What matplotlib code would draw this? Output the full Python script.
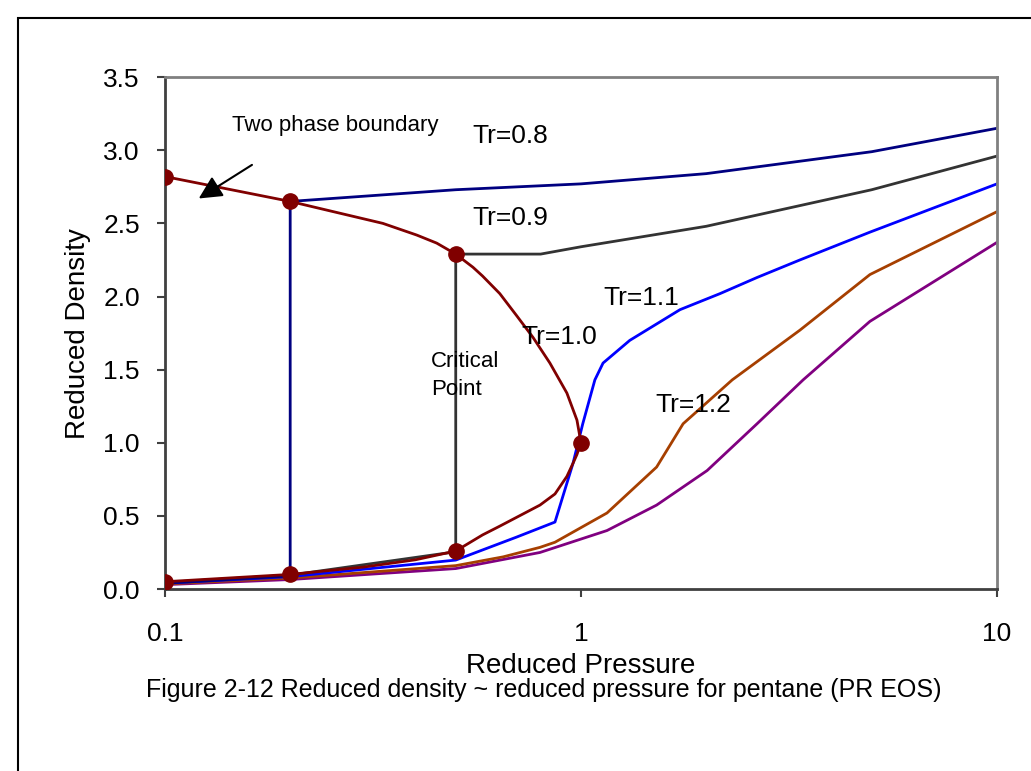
import matplotlib.pyplot as plt
from matplotlib.patches import Rectangle

plt.rcParams['font.family'] = ['Liberation Sans', 'DejaVu Sans']

# saturation dome (two phase boundary)
dome_p = [0.1, 0.2, 0.254, 0.334, 0.403, 0.45, 0.5, 0.55, 0.58, 0.638, 0.70, 0.767,
          0.842, 0.925, 0.978, 1.0, 0.978, 0.957, 0.925, 0.866, 0.797, 0.70,
          0.638, 0.58, 0.5, 0.4, 0.3, 0.2, 0.1]
dome_d = [2.82, 2.65, 2.58, 2.50, 2.42, 2.365, 2.29, 2.20, 2.14, 2.02, 1.87, 1.72,
          1.545, 1.34, 1.155, 1.0, 0.92, 0.86, 0.77, 0.65, 0.574, 0.49,
          0.43, 0.37, 0.26, 0.20, 0.15, 0.10, 0.05]
marker_p = [0.1, 0.2, 0.5, 1.0, 0.5, 0.2, 0.1]
marker_d = [2.82, 2.65, 2.29, 1.0, 0.26, 0.10, 0.05]

# isotherms
tr08_p = [0.1, 0.2, 0.2, 0.5, 1.0, 2.0, 5.0, 10.0]
tr08_d = [0.04, 0.09, 2.65, 2.73, 2.77, 2.84, 2.99, 3.15]

tr09_p = [0.1, 0.2, 0.5, 0.5, 0.8, 1.0, 2.0, 5.0, 10.0]
tr09_d = [0.045, 0.095, 0.255, 2.29, 2.29, 2.34, 2.48, 2.73, 2.96]

tr11_p = [0.1, 0.2, 0.5, 0.70, 0.866, 0.957, 1.01, 1.08, 1.13, 1.31, 1.73,
          2.16, 2.65, 3.36, 4.95, 10.0]
tr11_d = [0.04, 0.085, 0.198, 0.355, 0.458, 0.86, 1.13, 1.43, 1.545, 1.70, 1.91,
          2.02, 2.13, 2.25, 2.44, 2.77]

tr12_p = [0.1, 0.2, 0.5, 0.65, 0.797, 0.866, 1.155, 1.52, 1.61, 1.76, 2.31,
          3.36, 4.95, 10.0]
tr12_d = [0.035, 0.075, 0.16, 0.22, 0.285, 0.32, 0.52, 0.834, 0.95, 1.13, 1.43,
          1.77, 2.15, 2.58]

tr13_p = [0.1, 0.2, 0.5, 0.797, 1.155, 1.52, 2.01, 2.65, 3.42, 4.95, 10.0]
tr13_d = [0.03, 0.065, 0.14, 0.25, 0.40, 0.574, 0.81, 1.13, 1.43, 1.83, 2.37]

fig = plt.figure(figsize=(10.31, 7.71), dpi=100)
ax = fig.add_axes([0.160, 0.236, 0.807, 0.664])

ax.plot(tr13_p, tr13_d, color='#800080', lw=2)
ax.plot(tr12_p, tr12_d, color='#A63F00', lw=2)
ax.plot(tr11_p, tr11_d, color='#0000FF', lw=2)
ax.plot(tr09_p, tr09_d, color='#333333', lw=2)
ax.plot(tr08_p, tr08_d, color='#000080', lw=2)
ax.plot(dome_p, dome_d, color='#800000', lw=2)
ax.plot(marker_p, marker_d, 'o', color='#800000', ms=11, zorder=5)

ax.set_xscale('log')
ax.set_xlim(0.1, 10)
ax.set_ylim(0, 3.5)
ax.set_xticks([0.1, 1, 10])
ax.set_xticklabels(['0.1', '1', '10'])
ax.xaxis.set_minor_locator(plt.NullLocator())
ax.set_yticks([0, 0.5, 1.0, 1.5, 2.0, 2.5, 3.0, 3.5])
ax.set_yticklabels(['0.0', '0.5', '1.0', '1.5', '2.0', '2.5', '3.0', '3.5'])
ax.tick_params(labelsize=19, length=6, width=1.5, color='#404040')
ax.tick_params(axis='y', pad=12)
ax.tick_params(axis='x', pad=18)

for side in ['left', 'bottom']:
    ax.spines[side].set_color('#404040')
    ax.spines[side].set_linewidth(2)
for side in ['top', 'right']:
    ax.spines[side].set_color('#808080')
    ax.spines[side].set_linewidth(2)

ax.set_ylabel('Reduced Density', fontsize=20, labelpad=9)
ax.set_xlabel('Reduced Pressure', fontsize=20, labelpad=5)

ax.text(0.145, 3.17, 'Two phase boundary', fontsize=16, va='center', ha='left')
ax.text(0.547, 3.1, 'Tr=0.8', fontsize=19, va='center')
ax.text(0.547, 2.54, 'Tr=0.9', fontsize=19, va='center')
ax.text(1.13, 1.99, 'Tr=1.1', fontsize=19, va='center')
ax.text(0.72, 1.72, 'Tr=1.0', fontsize=19, va='center')
ax.text(1.51, 1.26, 'Tr=1.2', fontsize=19, va='center')
ax.text(0.436, 1.46, 'Critical\nPoint', fontsize=16, va='center', linespacing=1.4)

ax.annotate('', xy=(0.119, 2.66), xytext=(0.164, 2.91),
            arrowprops=dict(arrowstyle='-|>', color='black', lw=1.5,
                            mutation_scale=35))

fig.text(0.527, 0.105, 'Figure 2-12 Reduced density ~ reduced pressure for pentane (PR EOS)',
         fontsize=18, ha='center', va='center')

fig.patches.append(Rectangle((18 / 1031, -0.1), 1.2, 1 - 18 / 771 + 0.1,
                             transform=fig.transFigure, fill=False,
                             edgecolor='black', lw=1.5))

fig.savefig('out.png', dpi=100)
